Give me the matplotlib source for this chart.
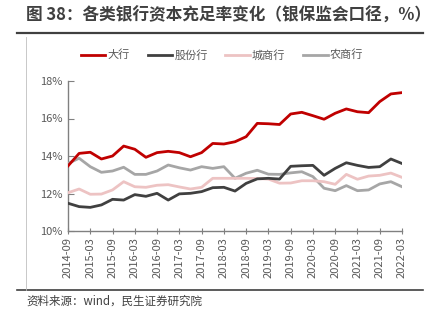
import matplotlib
matplotlib.use('Agg')

import matplotlib.pyplot as plt
from matplotlib.lines import Line2D

plt.rcParams['font.family'] = ['Noto Sans CJK SC', 'DejaVu Sans']

# ---------------------------
# DATA
# ---------------------------
quarters = ['2014-09', '2014-12', '2015-03', '2015-06', '2015-09', '2015-12',
            '2016-03', '2016-06', '2016-09', '2016-12', '2017-03', '2017-06',
            '2017-09', '2017-12', '2018-03', '2018-06', '2018-09', '2018-12',
            '2019-03', '2019-06', '2019-09', '2019-12', '2020-03', '2020-06',
            '2020-09', '2020-12', '2021-03', '2021-06', '2021-09', '2021-12',
            '2022-03']

big = [13.47, 14.14, 14.20, 13.84, 14.00, 14.53, 14.36, 13.93, 14.18, 14.25,
       14.18, 13.96, 14.18, 14.67, 14.64, 14.76, 15.03, 15.74, 15.72, 15.68,
       16.24, 16.33, 16.15, 15.96, 16.28, 16.51, 16.36, 16.31, 16.90, 17.31,
       17.38]
joint = [11.48, 11.30, 11.26, 11.39, 11.69, 11.65, 11.94, 11.85, 12.01, 11.65,
         11.98, 12.01, 12.10, 12.31, 12.33, 12.13, 12.54, 12.78, 12.81, 12.77,
         13.45, 13.48, 13.50, 12.97, 13.34, 13.64, 13.50, 13.39, 13.43, 13.84,
         13.60]
city = [12.04, 12.24, 11.96, 11.97, 12.19, 12.63, 12.36, 12.33, 12.44, 12.47,
        12.35, 12.24, 12.33, 12.81, 12.81, 12.81, 12.81, 12.80, 12.77, 12.55,
        12.56, 12.68, 12.68, 12.63, 12.49, 13.02, 12.76, 12.93, 12.97, 13.09,
        12.86]
rural = [13.60, 13.88, 13.43, 13.13, 13.20, 13.40, 13.02, 13.02, 13.20, 13.52,
         13.37, 13.25, 13.43, 13.34, 13.43, 12.81, 13.08, 13.24, 13.03, 13.02,
         13.10, 13.16, 12.90, 12.28, 12.15, 12.42, 12.15, 12.19, 12.51, 12.63,
         12.36]

names = ['大行', '股份行', '城商行', '农商行']
colors = ['#C00000', '#404040', '#EDC3C3', '#A6A6A6']
yticks = [10, 12, 14, 16, 18]

# ---------------------------
# FIGURE
# ---------------------------
fig = plt.figure(figsize=(4.35, 3.23), dpi=100)
ax = fig.add_axes([68/435, 1 - 231/323, 334/435, 150/323])

x = list(range(len(quarters)))
# light lines first, red on top
order = [3, 2, 1, 0]
series = [big, joint, city, rural]
for k in order:
    ax.plot(x, series[k], color=colors[k], lw=2.0, solid_joinstyle='round',
            zorder=3 + (3 - k))

ax.set_xlim(0, len(quarters) - 1)
ax.set_ylim(10, 18)
ax.set_yticks(yticks)
ax.set_yticklabels([f'{v}%' for v in yticks])
ax.set_xticks(x[::2])
ax.set_xticklabels(quarters[::2], rotation=90)

for s in ['top', 'right']:
    ax.spines[s].set_visible(False)
for s in ['left', 'bottom']:
    ax.spines[s].set_color('#808080')
    ax.spines[s].set_linewidth(1.0)

ax.tick_params(axis='y', direction='in', length=4, color='#808080',
               labelsize=8, labelcolor='#595959', pad=4)
ax.tick_params(axis='x', direction='inout', length=5, color='#808080',
               labelsize=8, labelcolor='#595959', pad=2)

# legend
handles = [Line2D([], [], color=c, lw=2.0) for c in colors]
fig.legend(handles, names, loc='center', bbox_to_anchor=(222/435, 1 - 55/323),
           ncol=4, frameon=False, fontsize=8, labelcolor='#595959',
           handlelength=2.2, handletextpad=0.2, columnspacing=1.6)

# ---------------------------
# FRAME / TEXT
# ---------------------------
fig.text(26/435, 1 - 16/323, '图 38：各类银行资本充足率变化（银保监会口径，%）',
         fontsize=12, fontweight='bold', color='#404040', va='center')
fig.add_artist(Line2D([17/435, 423/435], [1 - 33/323, 1 - 33/323],
                      color='#404040', lw=1.6))
fig.add_artist(Line2D([17/435, 423/435], [1 - 290/323, 1 - 290/323],
                      color='#404040', lw=1.2))
fig.add_artist(Line2D([26/435, 26/435], [1 - 37/323, 1 - 290/323],
                      color='#BFBFBF', lw=0.6))
fig.text(26/435, 1 - 301/323, '资料来源：wind，民生证券研究院',
         fontsize=8.3, color='#404040', va='center')

fig.savefig('out.png', dpi=100)
